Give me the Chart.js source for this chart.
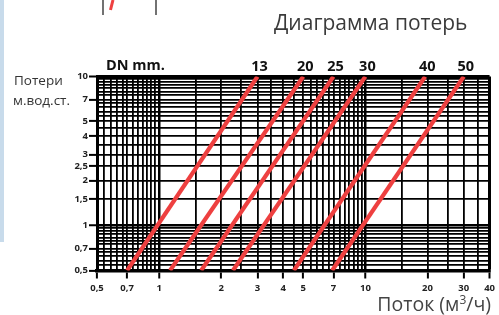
<!DOCTYPE html>
<html>
<head>
<meta charset="utf-8">
<script src="https://cdn.jsdelivr.net/npm/chart.js@4.4.1/dist/chart.umd.min.js"></script>
<style>
  body { margin: 0; background: #fff; }
  #wrap { position: relative; width: 499px; height: 315px; overflow: hidden; font-family: 'Open Sans', sans-serif; }
  #lossChart { position: absolute; left: 0; top: 0; }
  .txt { position: absolute; white-space: nowrap; color: #333; line-height: 1; }
  #strip { position: absolute; left: 0; top: 0; width: 4px; height: 242px; background: #c8dbeb; }
</style>
</head>
<body>
<div id="wrap">
  <canvas id="lossChart" width="499" height="315"></canvas>
  <div id="strip"></div>
  <div class="txt" style="left:274px; top:12px; font-size:21px; color:#3a3a3a;">Диаграмма потерь</div>
  <div class="txt" style="left:14px; top:74px; font-size:13.5px;">Потери</div>
  <div class="txt" style="left:13px; top:94px; font-size:13.5px;">м.вод.ст.</div>
  <div class="txt" style="left:106px; top:58px; font-size:14.5px; font-weight:bold; color:#111;">DN mm.</div>
  <div class="txt" style="right:8px; top:294px; font-size:19.5px; color:#444;">Поток (м<sup style="font-size:12px; vertical-align:7px; line-height:0;">3</sup>/ч)</div>
</div>
<script>
// DN sizes and flow (m3/h) where each line crosses the bottom (0,5) and top (10) of the chart
const dnSizes = ['13', '20', '25', '30', '40', '50'];
const flowAtMinLoss = [0.7, 1.13, 1.6, 2.28, 4.5, 6.9];
const flowAtMaxLoss = [3, 5, 7, 10, 19.5, 30];
const lossRange = [0.5, 10];

const xTickValues = [0.5, 0.7, 1, 2, 3, 4, 5, 7, 10, 20, 30, 40];
const xTickLabels = ['0,5', '0,7', '1', '2', '3', '4', '5', '7', '10', '20', '30', '40'];
const yTickValues = [0.5, 0.7, 1, 1.5, 2, 2.5, 3, 4, 5, 7, 10];
const yTickLabels = ['0,5', '0,7', '1', '1,5', '2', '2,5', '3', '4', '5', '7', '10'];

// grid lines of the printed chart paper
let gridLines = function (max) {
    let vals = [];
    for (let k = 0; k < 12; k++) vals.push(0.5 + k / 24);
    for (let v = 1; v < 5; v += 0.5) vals.push(v);
    for (let k = 0; k < 12; k++) vals.push(5 + k * 5 / 12);
    for (let v = 10; v <= max; v += 5) vals.push(v);
    // snap the lines next to 0,7 and 7 onto the labelled values
    return vals.map(v => Math.abs(v - 0.7083) < 0.01 ? 0.7 : (Math.abs(v - 7.083) < 0.1 ? 7 : v));
};

let labelFor = function (values, labels, v) {
    for (let i = 0; i < values.length; i++) {
        if (Math.abs(values[i] - v) < 1e-6) return labels[i];
    }
    return '';
};

let datasets = dnSizes.map(function (dn, i) {
    return {
        label: 'DN ' + dn,
        data: [{ x: flowAtMinLoss[i], y: lossRange[0] }, { x: flowAtMaxLoss[i], y: lossRange[1] }],
        borderColor: '#ee4040',
        borderWidth: 4.2,
        pointRadius: 0,
        showLine: true,
        fill: false
    };
});

let tickFont = { family: 'Open Sans', size: 9.5, weight: 'bold' };

let gridWidth = function (ctx, edge) {
    if (!ctx.tick) return 2;
    let v = ctx.tick.value;
    if (Math.abs(v - edge) < 1e-6) return 3;
    if (Math.abs(v - 1) < 1e-6 || Math.abs(v - 10) < 1e-6) return 2.5;
    return 1.8;
};

let dnLabels = {
    id: 'dnLabels',
    afterDatasetsDraw: function (chart) {
        let ctx = chart.ctx;
        let x = chart.scales.x;
        ctx.save();
        ctx.fillStyle = '#111';
        ctx.font = 'bold 14.5px "Open Sans"';
        ctx.textAlign = 'center';
        ctx.textBaseline = 'middle';
        dnSizes.forEach(function (dn, i) {
            ctx.fillText(dn, x.getPixelForValue(flowAtMaxLoss[i]) + 2, 67);
        });
        ctx.restore();
    }
};

// pieces of the neighbouring picture cut off at the top
let topScraps = {
    id: 'topScraps',
    beforeDraw: function (chart) {
        let ctx = chart.ctx;
        ctx.save();
        ctx.strokeStyle = '#444';
        ctx.lineWidth = 1.5;
        ctx.beginPath();
        ctx.moveTo(103, 0); ctx.lineTo(103, 15);
        ctx.moveTo(156, 0); ctx.lineTo(156, 15);
        ctx.stroke();
        ctx.strokeStyle = '#ee4040';
        ctx.lineWidth = 3;
        ctx.beginPath();
        ctx.moveTo(113, 0); ctx.lineTo(110.5, 10);
        ctx.stroke();
        ctx.restore();
    }
};

new Chart(document.getElementById('lossChart').getContext('2d'), {
    type: 'scatter',
    data: { datasets: datasets },
    plugins: [dnLabels, topScraps],
    options: {
        responsive: false,
        animation: false,
        devicePixelRatio: 1,
        layout: { padding: { top: 76.5, right: 8, bottom: 0, left: 0 } },
        plugins: { legend: { display: false }, tooltip: { enabled: false } },
        scales: {
            x: {
                type: 'logarithmic',
                min: 0.5,
                max: 40,
                afterBuildTicks: function (scale) {
                    scale.ticks = gridLines(40).map(v => ({ value: v }));
                },
                afterFit: function (scale) { scale.height = 44.5; },
                border: { color: '#000', width: 3.5 },
                grid: {
                    color: '#000',
                    lineWidth: ctx => gridWidth(ctx, 40),
                    tickLength: 8,
                    tickWidth: 2,
                    tickColor: ctx => (ctx.tick && labelFor(xTickValues, xTickLabels, ctx.tick.value) !== '') ? '#000' : 'rgba(0,0,0,0)'
                },
                ticks: {
                    autoSkip: false,
                    maxRotation: 0,
                    padding: 4,
                    color: '#222',
                    font: tickFont,
                    callback: value => labelFor(xTickValues, xTickLabels, value)
                }
            },
            y: {
                type: 'logarithmic',
                min: 0.5,
                max: 10,
                afterBuildTicks: function (scale) {
                    scale.ticks = gridLines(10).map(v => ({ value: v }));
                },
                afterFit: function (scale) { scale.width = 97; },
                border: { color: '#000', width: 3 },
                grid: {
                    color: '#000',
                    lineWidth: ctx => gridWidth(ctx, 10),
                    tickLength: 8,
                    tickWidth: 2,
                    tickColor: ctx => (ctx.tick && labelFor(yTickValues, yTickLabels, ctx.tick.value) !== '') ? '#000' : 'rgba(0,0,0,0)'
                },
                ticks: {
                    autoSkip: false,
                    padding: 1,
                    color: '#222',
                    font: tickFont,
                    callback: value => labelFor(yTickValues, yTickLabels, value)
                }
            }
        }
    }
});
</script>
</body>
</html>
